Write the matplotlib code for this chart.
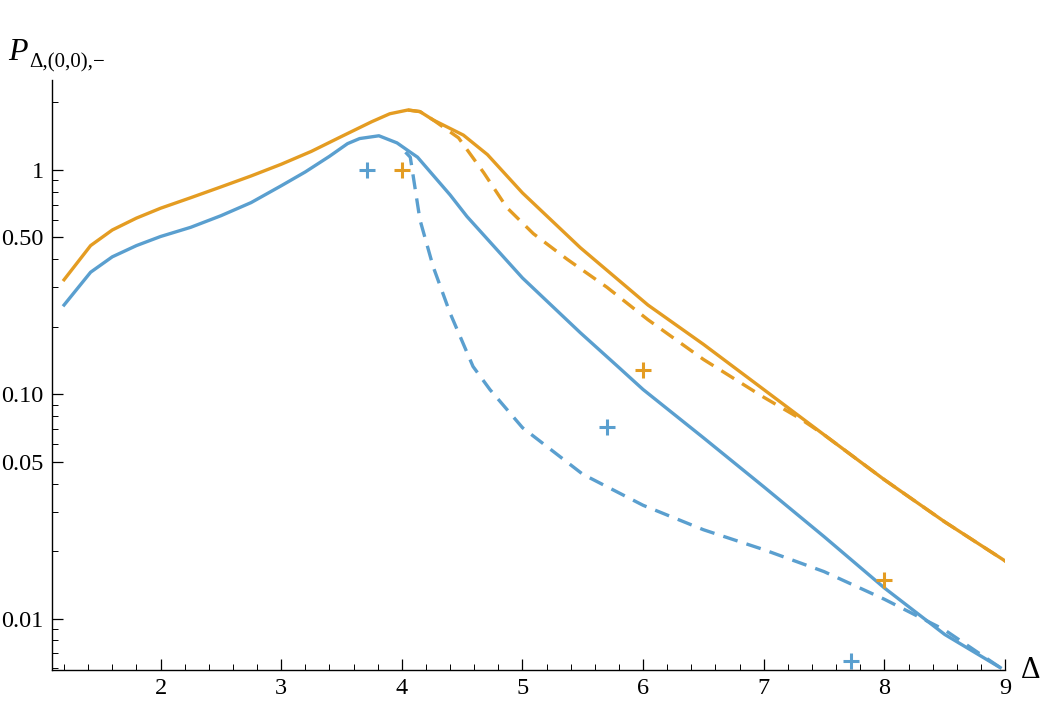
import matplotlib
matplotlib.use("Agg")
import matplotlib.pyplot as plt
from matplotlib.ticker import FixedLocator, FixedFormatter, LogLocator, NullFormatter, MultipleLocator

plt.rcParams['font.family'] = ['Liberation Serif', 'DejaVu Serif']

BLUE = '#5A9FCF'
ORANGE = '#E49C22'

# orange solid
o_x = [1.2, 1.42, 1.6, 1.8, 2.0, 2.25, 2.5, 2.75, 3.0, 3.25, 3.5, 3.75, 3.9, 4.05, 4.15, 4.26, 4.51, 4.71, 5.0, 5.48, 6.04, 6.5, 7.0, 7.5, 8.0, 8.5, 9.02]
o_y = [0.324, 0.46, 0.54, 0.61, 0.675, 0.752, 0.84, 0.94, 1.06, 1.21, 1.41, 1.64, 1.78, 1.85, 1.82, 1.67, 1.43, 1.17, 0.79, 0.45, 0.25, 0.167, 0.105, 0.066, 0.0416, 0.027, 0.0178]

# orange dashed
od_x = [4.05, 4.15, 4.26, 4.47, 4.68, 4.87, 5.09, 5.37, 5.70, 6.04, 6.5, 7.0, 7.3, 7.5, 8.0, 8.5, 9.02]
od_y = [1.85, 1.82, 1.67, 1.39, 0.97, 0.68, 0.52, 0.40, 0.30, 0.215, 0.143, 0.097, 0.078, 0.066, 0.0416, 0.027, 0.0178]

# blue solid
b_x = [1.2, 1.42, 1.6, 1.8, 2.0, 2.25, 2.5, 2.75, 3.0, 3.2, 3.4, 3.55, 3.65, 3.81, 3.96, 4.07, 4.13, 4.40, 4.54, 5.0, 5.48, 5.79, 6.0, 6.5, 7.0, 7.5, 8.0, 8.5, 8.96]
b_y = [0.25, 0.35, 0.41, 0.46, 0.505, 0.555, 0.625, 0.715, 0.85, 0.98, 1.15, 1.31, 1.38, 1.42, 1.32, 1.20, 1.14, 0.774, 0.62, 0.33, 0.188, 0.133, 0.105, 0.064, 0.0387, 0.0232, 0.0137, 0.0085, 0.00605]

# blue dashed
bd_x = [4.03, 4.07, 4.15, 4.26, 4.40, 4.59, 4.73, 5.0, 5.5, 6.0, 6.5, 7.0, 7.5, 8.0, 8.5, 8.96]
bd_y = [1.20, 1.14, 0.60, 0.37, 0.23, 0.133, 0.105, 0.071, 0.044, 0.032, 0.0249, 0.0203, 0.0162, 0.0122, 0.0089, 0.00605]

# plus markers
bp_x = [3.71, 5.7, 7.72]
bp_y = [1.0, 0.0716, 0.0065]
op_x = [4.0, 6.0, 8.0]
op_y = [1.0, 0.128, 0.0148]

fig = plt.figure(figsize=(10.42, 7.07), dpi=100)
ax = fig.add_axes([0.0499, 0.0523, 0.9146, 0.8347])

lw = 2.4
ax.plot(o_x, o_y, color=ORANGE, lw=lw, solid_joinstyle='round')
ax.plot(od_x, od_y, color=ORANGE, lw=lw, ls=(0, (4.5, 2.8)))
ax.plot(b_x, b_y, color=BLUE, lw=lw, solid_joinstyle='round')
ax.plot(bd_x, bd_y, color=BLUE, lw=lw, ls=(0, (4.5, 2.8)))
ax.plot(bp_x, bp_y, ls='none', marker='+', ms=11, mew=2.2, color=BLUE, clip_on=False)
ax.plot(op_x, op_y, ls='none', marker='+', ms=11, mew=2.2, color=ORANGE, clip_on=False)

ax.set_yscale('log')
ax.set_xlim(1.1, 9.0)
ax.set_ylim(0.0059, 2.52)

ax.xaxis.set_major_locator(FixedLocator([2, 3, 4, 5, 6, 7, 8, 9]))
ax.xaxis.set_minor_locator(MultipleLocator(0.2))
ax.yaxis.set_major_locator(FixedLocator([0.01, 0.05, 0.1, 0.5, 1]))
ax.yaxis.set_major_formatter(FixedFormatter(['0.01', '0.05', '0.10', '0.50', '1']))
ax.yaxis.set_minor_locator(LogLocator(base=10, subs=[1, 2, 3, 4, 5, 6, 7, 8, 9], numticks=20))
ax.yaxis.set_minor_formatter(NullFormatter())

for s in ['top', 'right']:
    ax.spines[s].set_visible(False)
for s in ['left', 'bottom']:
    ax.spines[s].set_linewidth(1.0)

ax.tick_params(which='major', direction='in', length=8, width=0.9, labelsize=17.5, pad=6)
ax.tick_params(which='minor', direction='in', length=4, width=0.7)

fig.text(8 / 1042, 1 - 60 / 707, 'P', style='italic', fontsize=23, ha='left', va='baseline')
fig.text(29 / 1042, 1 - 67 / 707, 'Δ,(0,0),−', fontsize=15, ha='left', va='baseline')
fig.text(1021 / 1042, 1 - 678 / 707, 'Δ', fontsize=22, ha='left', va='baseline')

fig.savefig('out.png', dpi=100)
